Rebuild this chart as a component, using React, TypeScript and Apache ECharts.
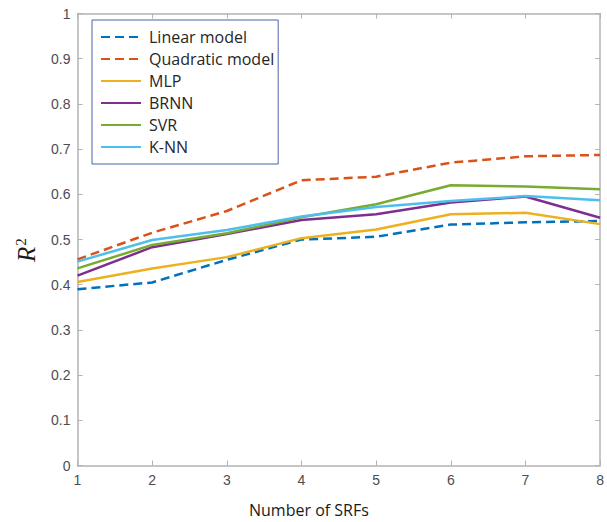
import React, { useEffect, useRef } from "react";
import * as echarts from "echarts";

const xValues = [1, 2, 3, 4, 5, 6, 7, 8];
const linearModel = [0.39, 0.405, 0.455, 0.5, 0.506, 0.533, 0.538, 0.541];
const quadraticModel = [0.456, 0.515, 0.563, 0.631, 0.639, 0.67, 0.684, 0.687];
const mlp = [0.406, 0.436, 0.461, 0.503, 0.522, 0.556, 0.559, 0.534];
const brnn = [0.42, 0.483, 0.512, 0.543, 0.556, 0.582, 0.595, 0.548];
const svr = [0.436, 0.488, 0.514, 0.549, 0.578, 0.62, 0.617, 0.611];
const knn = [0.451, 0.499, 0.521, 0.551, 0.572, 0.585, 0.596, 0.587];

const seriesDefs = [
  { name: "Linear model", data: linearModel, color: "#0072BD", dashed: true },
  { name: "Quadratic model", data: quadraticModel, color: "#D95319", dashed: true },
  { name: "MLP", data: mlp, color: "#EDB120", dashed: false },
  { name: "BRNN", data: brnn, color: "#7E2F8E", dashed: false },
  { name: "SVR", data: svr, color: "#77AC30", dashed: false },
  { name: "K-NN", data: knn, color: "#4DBEEE", dashed: false },
];

export default function App() {
  const ref = useRef<HTMLDivElement>(null);
  useEffect(() => {
    if (!ref.current) return;
    const chart = echarts.init(ref.current, null, { renderer: "svg" });
    const axisColor = "#b3b3b3";
    const labelColor = "#4d4d4d";
    chart.setOption({
      animation: false,
      backgroundColor: "#ffffff",
      grid: { left: 77.5, right: 3.5, top: 13.5, bottom: 56.5 },
      legend: {
        orient: "vertical",
        left: 92,
        top: 20,
        itemWidth: 40,
        itemHeight: 14,
        itemGap: 6,
        padding: [9, 4, 9, 8],
        borderColor: "#4a62a8",
        borderWidth: 1,
        backgroundColor: "#ffffff",
        itemStyle: { opacity: 0 },
        textStyle: {
          fontFamily: "Open Sans",
          fontSize: 16,
          lineHeight: 16,
          color: "#262626",
          padding: [0, 0, 0, 3],
        },
        data: seriesDefs.map((s) => s.name),
      },
      xAxis: [
        {
          type: "value",
          min: 1,
          max: 8,
          interval: 1,
          position: "bottom",
          axisLine: { show: true, onZero: false, lineStyle: { color: axisColor, width: 1.5 } },
          axisTick: { show: true, inside: true, length: 5, lineStyle: { color: axisColor } },
          axisLabel: { margin: 7, color: labelColor, fontFamily: "Liberation Sans", fontSize: 14 },
          splitLine: { show: false },
        },
        {
          type: "value",
          min: 1,
          max: 8,
          interval: 1,
          position: "top",
          axisLine: { show: true, onZero: false, lineStyle: { color: axisColor, width: 1.5 } },
          axisTick: { show: true, inside: true, length: 5, lineStyle: { color: axisColor } },
          axisLabel: { show: false },
          splitLine: { show: false },
        },
      ],
      yAxis: [
        {
          type: "value",
          min: 0,
          max: 1,
          interval: 0.1,
          position: "left",
          axisLine: { show: true, onZero: false, lineStyle: { color: axisColor, width: 1.5 } },
          axisTick: { show: true, inside: true, length: 5, lineStyle: { color: axisColor } },
          axisLabel: { margin: 7, color: labelColor, fontFamily: "Liberation Sans", fontSize: 14 },
          splitLine: { show: false },
        },
        {
          type: "value",
          min: 0,
          max: 1,
          interval: 0.1,
          position: "right",
          axisLine: { show: true, onZero: false, lineStyle: { color: axisColor, width: 1.5 } },
          axisTick: { show: true, inside: true, length: 5, lineStyle: { color: axisColor } },
          axisLabel: { show: false },
          splitLine: { show: false },
        },
      ],
      graphic: [
        {
          type: "text",
          left: 249,
          top: 502,
          style: {
            text: "Number of SRFs",
            fontFamily: "Open Sans",
            fontSize: 16,
            fill: "#1a1a1a",
          },
        },
        {
          type: "text",
          x: 13,
          y: 262,
          rotation: Math.PI / 2,
          style: {
            text: "{r|R}{s|2}",
            rich: {
              r: { fontFamily: "Liberation Serif", fontStyle: "italic", fontSize: 25, fill: "#1a1a1a" },
              s: { fontFamily: "Liberation Serif", fontSize: 15, fill: "#1a1a1a", padding: [0, 0, 12, 1] },
            },
          },
        },
      ],
      series: seriesDefs.map((s) => ({
        name: s.name,
        type: "line",
        xAxisIndex: 0,
        yAxisIndex: 0,
        symbol: "none",
        color: s.color,
        lineStyle: { color: s.color, width: 2.5, type: s.dashed ? [9, 5] : "solid" },
        data: xValues.map((x, i) => [x, s.data[i]]),
      })),
    });
    return () => chart.dispose();
  }, []);
  return <div ref={ref} style={{ width: 607, height: 522, position: "absolute", left: 0, top: 0 }} />;
}
